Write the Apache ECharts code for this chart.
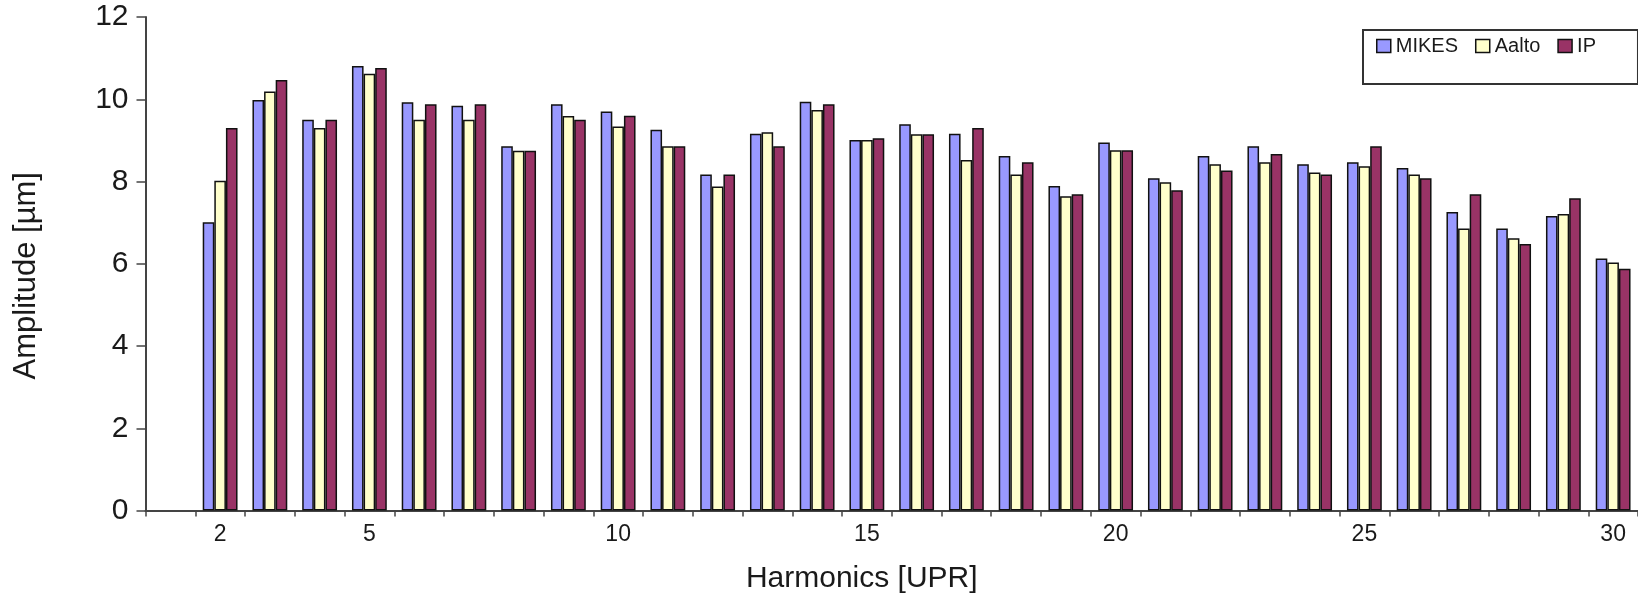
<!DOCTYPE html>
<html>
<head>
<meta charset="utf-8">
<title>Harmonics amplitude</title>
<script src="https://cdn.jsdelivr.net/npm/echarts@6/dist/echarts.min.js"></script>
<style>
  html, body { margin: 0; padding: 0; background: #fff; }
  #chart { width: 1638px; height: 601px; }
</style>
</head>
<body>
<div id="chart"></div>
<script>
// harmonic numbers (1 has no measurement, it is just an empty slot on the axis)
const harmonics = ["1", "2", "3", "4", "5", "6", "7", "8", "9", "10",
  "11", "12", "13", "14", "15", "16", "17", "18", "19", "20",
  "21", "22", "23", "24", "25", "26", "27", "28", "29", "30"];
const shownLabels = ["2", "5", "10", "15", "20", "25", "30"];

const mikes = [null, 7.01, 9.98, 9.50, 10.81, 9.93, 9.84, 8.86, 9.88, 9.70,
  9.26, 8.17, 9.16, 9.94, 9.01, 9.39, 9.16, 8.62, 7.89, 8.95,
  8.08, 8.62, 8.86, 8.42, 8.47, 8.33, 7.26, 6.86, 7.16, 6.13];
const aalto = [null, 8.02, 10.19, 9.30, 10.62, 9.50, 9.50, 8.75, 9.59, 9.34,
  8.86, 7.88, 9.20, 9.74, 9.01, 9.15, 8.52, 8.17, 7.64, 8.76,
  7.98, 8.42, 8.47, 8.22, 8.37, 8.17, 6.86, 6.62, 7.21, 6.03];
const ip = [null, 9.30, 10.47, 9.50, 10.76, 9.88, 9.88, 8.75, 9.50, 9.60,
  8.86, 8.17, 8.86, 9.88, 9.05, 9.15, 9.30, 8.47, 7.69, 8.76,
  7.79, 8.27, 8.67, 8.17, 8.86, 8.08, 7.69, 6.48, 7.59, 5.88];

const yTicks = [0, 2, 4, 6, 8, 10, 12];

const font = "'Liberation Sans', Arial, sans-serif";
const textColor = "#1a1a1a";

const mChart = echarts.init(document.getElementById("chart"));

const makeSeries = (name, data, color) => ({
  name: name,
  type: "bar",
  data: data,
  barGap: "0%",
  barCategoryGap: "30%",
  itemStyle: {
    color: color,
    borderColor: "#111",
    borderWidth: 1.5,
  },
});

const options = {
  animation: false,
  backgroundColor: "#fff",
  grid: {
    left: 145.5,
    top: 17,
    width: 1500,
    height: 493.5,
  },
  legend: {
    left: 1363,
    top: 30,
    orient: "horizontal",
    padding: [6, 42, 28, 13],
    backgroundColor: "#fff",
    borderColor: "#333",
    borderWidth: 2,
    borderRadius: 0,
    itemWidth: 14,
    itemHeight: 13,
    itemGap: 17,
    icon: "rect",
    itemStyle: {
      borderColor: "#111",
      borderWidth: 1.5,
    },
    textStyle: {
      fontFamily: font,
      fontSize: 20,
      color: textColor,
    },
  },
  xAxis: {
    type: "category",
    data: harmonics,
    name: "Harmonics [UPR]",
    nameLocation: "middle",
    nameGap: 53,
    nameTextStyle: {
      fontFamily: font,
      fontSize: 30,
      color: textColor,
      padding: [0, 60, 0, 0],
    },
    axisLine: {
      lineStyle: { color: "#444", width: 2 },
    },
    axisTick: {
      show: true,
      interval: 0,
      length: 6,
      lineStyle: { color: "#444", width: 1.5 },
    },
    axisLabel: {
      // only a few harmonics carry a label
      interval: (index, value) => shownLabels.includes(value),
      margin: 13,
      fontFamily: font,
      fontSize: 23,
      color: textColor,
    },
    splitLine: { show: false },
  },
  yAxis: {
    type: "value",
    min: yTicks[0],
    max: yTicks[yTicks.length - 1],
    interval: yTicks[1] - yTicks[0],
    name: "Amplitude [µm]",
    nameLocation: "middle",
    nameGap: 104,
    nameTextStyle: {
      fontFamily: font,
      fontSize: 31,
      color: textColor,
      padding: [0, 24, 0, 0],
    },
    axisLine: {
      show: true,
      lineStyle: { color: "#444", width: 2 },
    },
    axisTick: {
      show: true,
      length: 9,
      lineStyle: { color: "#444", width: 1.5 },
    },
    axisLabel: {
      margin: 17,
      fontFamily: font,
      fontSize: 30,
      color: textColor,
      padding: [18, 0, 0, 0],
    },
    splitLine: { show: false },
  },
  series: [
    makeSeries("MIKES", mikes, "#9999ff"),
    makeSeries("Aalto", aalto, "#ffffcc"),
    makeSeries("IP", ip, "#993366"),
  ],
};

mChart.setOption(options);
</script>
</body>
</html>
